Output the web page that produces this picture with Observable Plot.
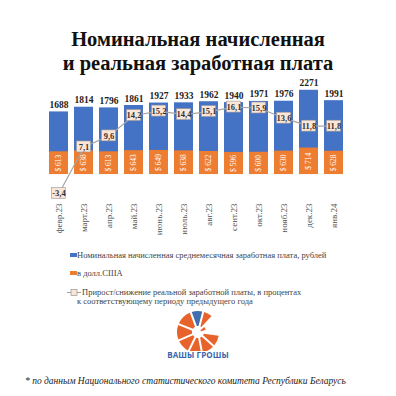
<!DOCTYPE html>
<html><head><meta charset="utf-8">
<script src="https://cdn.jsdelivr.net/npm/d3@7"></script>
<script src="https://cdn.jsdelivr.net/npm/@observablehq/plot@0.6"></script>
<style>
body{margin:0;background:#fff;width:396px;height:396px;position:relative;overflow:hidden;font-family:"Liberation Serif","Times New Roman",serif;}
#title{position:absolute;top:27px;left:0;width:396px;text-align:center;font-weight:bold;font-size:20.5px;line-height:24px;color:#111;}
#chart{position:absolute;top:68px;left:0;}
#chart svg{overflow:visible;}
.leg{position:absolute;font-size:8.5px;line-height:9px;color:#444;white-space:nowrap;}
.sw{position:absolute;width:7px;height:4px;}
#logo{position:absolute;left:165px;top:303px;}
#brand{position:absolute;left:0;width:396px;top:349px;text-align:center;font-family:"Open Sans","DejaVu Sans",sans-serif;font-weight:bold;font-size:8px;color:#3566ad;letter-spacing:0.1px;}
#note{position:absolute;left:25px;top:376px;font-style:italic;font-size:9.5px;color:#222;white-space:nowrap;}
</style></head>
<body>
<div id="title">Номинальная начисленная<br>и реальная заработная плата</div>
<div id="chart"></div>
<div class="sw" style="left:70px;top:253px;background:#4472C4"></div>
<div class="leg" style="left:77px;top:250.5px">Номинальная начисленная среднемесячная заработная плата, рублей</div>
<div class="sw" style="left:70px;top:271px;background:#ED7D31"></div>
<div class="leg" style="left:77px;top:268.5px">в долл.США</div>
<svg style="position:absolute;left:66px;top:288px" width="16" height="9"><line x1="1" y1="4.5" x2="15" y2="4.5" stroke="#a5a5a5" stroke-width="1"/><rect x="5" y="1.5" width="6" height="6" fill="#fbe5d6" stroke="#888" stroke-width="0.6"/></svg>
<div class="leg" style="left:82px;top:288px">Прирост/снижение реальной заработной платы, в процентах</div>
<div class="leg" style="left:77px;top:297px">к соответствующему периоду предыдущего года</div>
<svg id="logo" width="66" height="48"></svg>
<div id="brand">ВАШЫ ГРОШЫ</div>
<div id="note">* по данным Национального статистического комитета Республики Беларусь</div>
<script>
const months = ["февр.23","март.23","апр.23","май.23","июнь.23","июль.23","авг.23","сент.23","окт.23","нояб.23","дек.23","янв.24"];
const rubles = [1688,1814,1796,1861,1927,1933,1962,1940,1971,1976,2271,1991];
const usd = [613,638,613,643,649,638,622,596,600,630,714,628];
const growth = [-3.4,7.1,9.6,14.2,15.2,14.4,15.1,16.1,15.9,13.6,11.8,11.8];

const rows = months.map((m,i)=>({month:m, rub:rubles[i], usd:usd[i], pct:growth[i]}));
// secondary (percent) axis mapped onto the ruble scale
const pctToY = v => v*119.4 - 105;
const boxHalf = 148;

const chart = Plot.plot({
  width:396, height:182,
  marginTop:17, marginBottom:50, marginLeft:43, marginRight:47,
  style:{fontFamily:"Liberation Serif, Times New Roman, serif", fontSize:"9px", color:"#555", background:"transparent"},
  x:{domain:months, padding:0.24, tickRotate:-90, tickSize:0, tickPadding:3, label:null},
  y:{domain:[-700,2400], axis:null},
  marks:[
    Plot.barY(rows,{x:"month", y:"rub", fill:"#4472C4"}),
    Plot.barY(rows,{x:"month", y:"usd", fill:"#ED7D31"}),
    Plot.text(rows,{x:"month", y:"rub", text:d=>String(d.rub), dy:-7, fontWeight:"bold", fontSize:9.5, fill:"#222"}),
    Plot.text(rows,{x:"month", y:d=>d.usd/2, text:d=>"$ "+d.usd, rotate:-90, fill:"white", fontSize:7.5}),
    Plot.line(rows,{x:"month", y:d=>pctToY(d.pct), stroke:"#a5a5a5", strokeWidth:1.2}),
    Plot.barY(rows,{x:"month", y1:d=>pctToY(d.pct)-boxHalf, y2:d=>pctToY(d.pct)+boxHalf, fill:"#fbe5d6", stroke:"#999", strokeWidth:0.6, insetLeft:2.5, insetRight:2.5}),
    Plot.text(rows,{x:"month", y:d=>pctToY(d.pct), text:d=>String(d.pct).replace(".",","), fontWeight:"bold", fontSize:8.5, fill:"#333"})
  ]
});
document.getElementById("chart").appendChild(chart);

// decorative logo
const svg = d3.select("#logo");
const g = svg.append("g").attr("transform","translate(33,29)");
const arc = d3.arc().innerRadius(6).outerRadius(21).padAngle(0.09);
const segs = [[-0.35,0.25,"#3f6fb0"],[0.25,0.75,"#e8632b"],[1.7,2.3,"#e8632b"],[2.3,2.95,"#e8632b"],[2.95,3.6,"#e8632b"],[3.6,4.3,"#e8632b"],[4.3,5.1,"#e8632b"],[5.1,5.93,"#e8632b"]];
segs.forEach(([a0,a1,c])=>g.append("path").attr("d",arc({startAngle:a0,endAngle:a1})).attr("fill",c));
g.append("path").attr("d",d3.arc().innerRadius(3).outerRadius(8)({startAngle:0.9,endAngle:1.3})).attr("fill","#e8632b");
</script>
</body></html>
